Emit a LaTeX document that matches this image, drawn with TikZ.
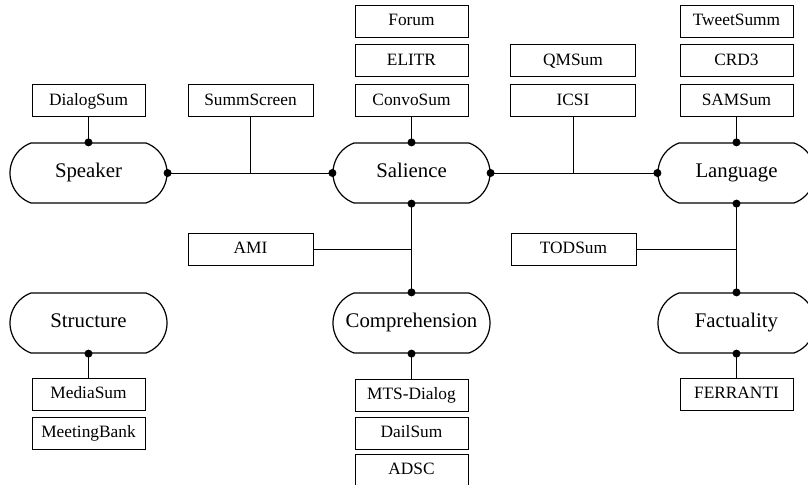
\documentclass[tikz,border=0pt]{standalone}
\usepackage{fontspec}
\setmainfont{Liberation Serif}
\usepackage{tikz}
\usetikzlibrary{shapes.misc}

\begin{document}
\begin{tikzpicture}[x=0.75pt,y=-0.75pt,
  topic/.style={rounded rectangle,rounded rectangle arc length=140,draw,line width=0.9pt,
    minimum width=117.75pt,minimum height=45pt,inner sep=0pt,text height=0.8em,text depth=0.14em,
    font=\fontsize{15.6}{18}\selectfont},
  data/.style={rectangle,draw,line width=0.5pt,minimum width=84.75pt,minimum height=24pt,
    inner sep=0pt,text height=0.82em,text depth=0.1em,font=\fontsize{13}{15}\selectfont},
  wide/.style={data,minimum width=93.75pt},
  link/.style={line width=0.6pt}]
  \useasboundingbox (0,0) rectangle (808,485);
  % Themen
  \node[topic] (speaker) at (88.5,173) {Speaker};
  \node[topic] (salience) at (411.5,173) {Salience};
  \node[topic] (language) at (736.5,173) {Language};
  \node[topic] (structure) at (88.5,323) {Structure};
  \node[topic] (compr) at (411.5,323) {Comprehension};
  \node[topic] (fact) at (736.5,323) {Factuality};
  % Datensaetze
  \node[data] (forum) at (411.5,21) {Forum};
  \node[data] (elitr) at (411.5,60.5) {ELITR};
  \node[data] (convosum) at (411.5,100.5) {ConvoSum};
  \node[wide] (qmsum) at (573,60.5) {QMSum};
  \node[wide] (icsi) at (573,100.5) {ICSI};
  \node[data] (tweetsumm) at (736.5,21) {TweetSumm};
  \node[data] (crd) at (736.5,60.5) {CRD3};
  \node[data] (samsum) at (736.5,100.5) {SAMSum};
  \node[data] (dialogsum) at (88.5,100.5) {DialogSum};
  \node[wide] (summscreen) at (250.5,100.5) {SummScreen};
  \node[wide] (ami) at (250.5,249) {AMI};
  \node[wide] (todsum) at (573.5,249) {TODSum};
  \node[data] (mediasum) at (88.5,394) {MediaSum};
  \node[data] (meetingbank) at (88.5,433) {MeetingBank};
  \node[data] (mts) at (411.5,395) {MTS-Dialog};
  \node[data] (dailsum) at (411.5,433) {DailSum};
  \node[data] (adsc) at (411.5,470) {ADSC};
  \node[data] (ferranti) at (736.5,394) {FERRANTI};
  % Verbindungen
  \draw[link] (speaker.east) -- (salience.west);
  \draw[link] (salience.east) -- (language.west);
  \draw[link] (salience.south) -- (compr.north);
  \draw[link] (language.south) -- (fact.north);
  \draw[link] (summscreen.south) -- (summscreen.south |- speaker.east);
  \draw[link] (icsi.south) -- (icsi.south |- salience.east);
  \draw[link] (ami.east) -- (ami.east -| salience.south);
  \draw[link] (todsum.east) -- (todsum.east -| language.south);
  \draw[link] (dialogsum.south) -- (speaker.north);
  \draw[link] (convosum.south) -- (salience.north);
  \draw[link] (samsum.south) -- (language.north);
  \draw[link] (structure.south) -- (mediasum.north);
  \draw[link] (compr.south) -- (mts.north);
  \draw[link] (fact.south) -- (ferranti.north);
  \foreach \p in {speaker.east,speaker.north,salience.west,salience.east,salience.north,
      salience.south,language.west,language.north,language.south,structure.south,
      compr.north,compr.south,fact.north,fact.south}
    \fill (\p) circle (3pt);
\end{tikzpicture}
\end{document}
